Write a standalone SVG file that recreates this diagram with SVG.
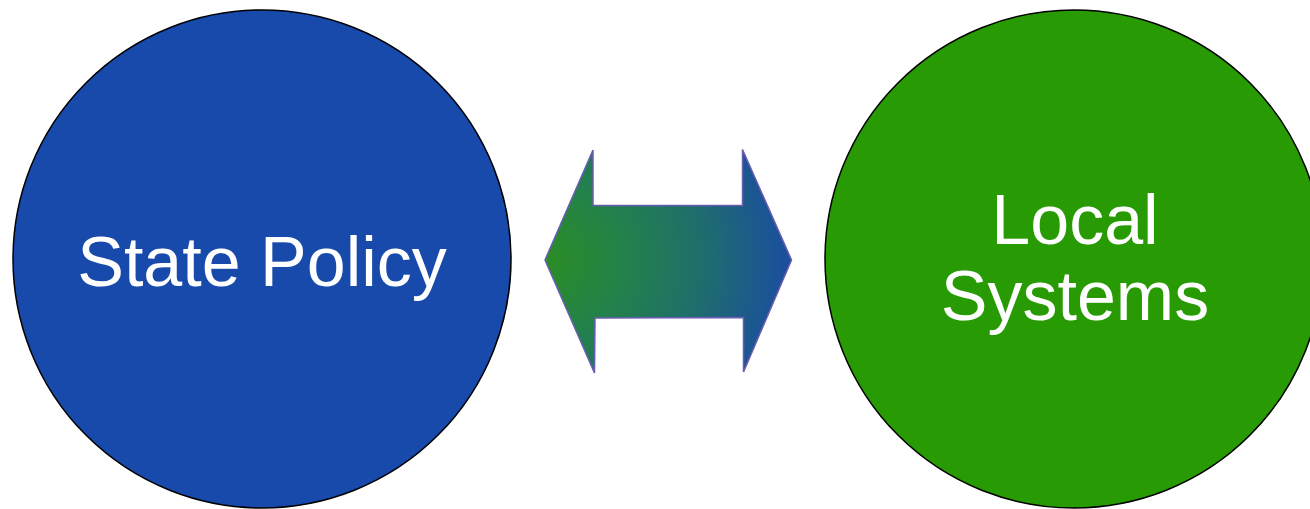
<svg xmlns="http://www.w3.org/2000/svg" width="1310" height="509" viewBox="0 0 1310 509">
  <style>
    .node { stroke: #000; stroke-width: 1.5; }
    .label { font-family: "Liberation Sans", Arial, sans-serif; font-size: 70px; fill: #ffffff; text-anchor: middle; }
  </style>
  <defs>
    <radialGradient id="arrowGrad" gradientUnits="userSpaceOnUse" cx="548" cy="260" r="250">
      <stop offset="0" stop-color="#2a8c26"/>
      <stop offset="0.3" stop-color="#23824a"/>
      <stop offset="0.6" stop-color="#1f6f6a"/>
      <stop offset="1" stop-color="#1a4ba4"/>
    </radialGradient>
  </defs>
  <rect width="1310" height="509" fill="#ffffff"/>
  <g id="state-policy">
    <circle class="node" cx="262" cy="259" r="249" fill="#174aaa"/>
    <text class="label" x="262" y="286">State Policy</text>
  </g>
  <g id="local-systems">
    <circle class="node" cx="1074" cy="259" r="249" fill="#279a04"/>
    <text class="label" x="1075" y="244">Local</text>
    <text class="label" x="1075" y="320">Systems</text>
  </g>
  <g id="connectors">
    <path d="M545,260 L593,150 L593,205.5 L742.5,205.5 L742.5,149.5 L791.5,260 L743.5,372 L743.5,317.5 L595,318 L594.5,373 Z" fill="url(#arrowGrad)" stroke="#6a5cb0" stroke-width="1.5" stroke-linejoin="miter"/>
  </g>
</svg>
